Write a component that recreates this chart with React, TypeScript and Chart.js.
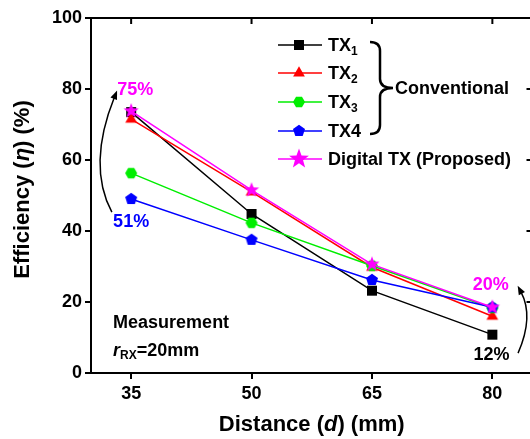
import React, { useEffect, useRef } from "react";
import { Chart, registerables } from "chart.js";
Chart.register(...registerables);

// ---------- data ----------
const distances = [35, 50, 65, 80];
const tx1 = [73.5, 44.8, 23.2, 10.8];
const tx2 = [71.5, 51.0, 29.8, 16.0];
const tx3 = [56.3, 42.3, 30.2, 18.3];
const tx4 = [49.0, 37.5, 26.2, 18.5];
const digital = [73.8, 51.5, 30.6, 18.5];
const yTicks = [0, 20, 40, 60, 80, 100];
const xRange = [30, 85];
const yRange = [0, 100];

const legendMain = ["TX", "TX", "TX", "TX4", "Digital TX (Proposed)"];
const legendSub = ["1", "2", "3", "", ""];
const colors = ["#000000", "#ff0000", "#00ee00", "#0000ff", "#ff00ff"];
const shapes = ["square", "triangle", "hexagon", "pentagon", "star"];

// annotation texts (positions in data units)
const noteTexts = ["75%", "51%", "20%", "12%"];
const noteColors = ["#ff00ff", "#0000ff", "#ff00ff", "#000000"];
const noteX = [35.5, 35.0, 79.8, 79.9];
const noteY = [79.7, 42.5, 24.8, 5.0];

const FONT = '"Liberation Sans", Arial, Helvetica, sans-serif';
const bold = (s: number) => `bold ${s}px ${FONT}`;
const ibold = (s: number) => `italic bold ${s}px ${FONT}`;

function makeMarker(shape: string, color: string, scale = 1): HTMLCanvasElement {
  const size = Math.ceil(24 * scale);
  const c = document.createElement("canvas");
  c.width = size;
  c.height = size;
  const ctx = c.getContext("2d")!;
  ctx.fillStyle = color;
  const cx = size / 2,
    cy = size / 2;
  const poly = (n: number, r: number, start: number) => {
    for (let i = 0; i < n; i++) {
      const a = start + (i * 2 * Math.PI) / n;
      const x = cx + r * Math.cos(a),
        y = cy + r * Math.sin(a);
      if (i === 0) ctx.moveTo(x, y);
      else ctx.lineTo(x, y);
    }
  };
  ctx.beginPath();
  if (shape === "square") {
    const h = 5 * scale;
    ctx.rect(cx - h, cy - h, 2 * h, 2 * h);
  } else if (shape === "triangle") {
    poly(3, 6.8 * scale, -Math.PI / 2);
  } else if (shape === "hexagon") {
    poly(6, 6 * scale, 0);
  } else if (shape === "pentagon") {
    poly(5, 6.3 * scale, -Math.PI / 2);
  } else if (shape === "star") {
    const R = 8 * scale,
      r = 3.3 * scale;
    for (let i = 0; i < 10; i++) {
      const a = -Math.PI / 2 + (i * Math.PI) / 5;
      const rr = i % 2 === 0 ? R : r;
      const x = cx + rr * Math.cos(a),
        y = cy + rr * Math.sin(a);
      if (i === 0) ctx.moveTo(x, y);
      else ctx.lineTo(x, y);
    }
  }
  ctx.closePath();
  ctx.fill();
  return c;
}

function drawRich(
  ctx: CanvasRenderingContext2D,
  parts: { t: string; f: string; dy?: number }[],
  x: number,
  y: number,
  align: "left" | "center"
) {
  ctx.textBaseline = "middle";
  ctx.textAlign = "left";
  let total = 0;
  for (const p of parts) {
    ctx.font = p.f;
    total += ctx.measureText(p.t).width;
  }
  let cx = align === "center" ? x - total / 2 : x;
  for (const p of parts) {
    ctx.font = p.f;
    ctx.fillText(p.t, cx, y + (p.dy || 0));
    cx += ctx.measureText(p.t).width;
  }
}

function arrow(
  ctx: CanvasRenderingContext2D,
  p0: [number, number],
  c: [number, number],
  p1: [number, number]
) {
  ctx.save();
  ctx.strokeStyle = "#000";
  ctx.fillStyle = "#000";
  ctx.lineWidth = 1.5;
  const dx = p1[0] - c[0],
    dy = p1[1] - c[1];
  const len = Math.hypot(dx, dy);
  const ux = dx / len,
    uy = dy / len;
  const hl = 9,
    hw = 3.5;
  const bx = p1[0] - ux * hl,
    by = p1[1] - uy * hl;
  ctx.beginPath();
  ctx.moveTo(p0[0], p0[1]);
  ctx.quadraticCurveTo(c[0], c[1], bx + ux * 2, by + uy * 2);
  ctx.stroke();
  ctx.beginPath();
  ctx.moveTo(p1[0], p1[1]);
  ctx.lineTo(bx - uy * hw, by + ux * hw);
  ctx.lineTo(bx + uy * hw, by - ux * hw);
  ctx.closePath();
  ctx.fill();
  ctx.restore();
}

const decorPlugin = {
  id: "decor",
  afterDraw(chart: any) {
    const ctx: CanvasRenderingContext2D = chart.ctx;
    const { left, right, top, bottom } = chart.chartArea;
    const xs = chart.scales.x,
      ys = chart.scales.y;
    const X = (v: number) => xs.getPixelForValue(v);
    const Y = (v: number) => ys.getPixelForValue(v);
    ctx.save();
    // frame top/right
    ctx.strokeStyle = "#000";
    ctx.lineWidth = 2;
    ctx.beginPath();
    ctx.moveTo(left - 1, top);
    ctx.lineTo(right, top);
    ctx.lineTo(right, bottom + 1);
    ctx.stroke();
    // inward mirror ticks
    ctx.beginPath();
    for (const d of distances) {
      ctx.moveTo(X(d), top);
      ctx.lineTo(X(d), top + 6);
    }
    for (const t of yTicks) {
      ctx.moveTo(right, Y(t));
      ctx.lineTo(right - 6, Y(t));
    }
    ctx.stroke();

    // legend
    const lx0 = left + 187,
      lx1 = left + 231,
      mx = left + 208,
      tx = left + 237;
    const rowY = [top + 27, top + 55, top + 84, top + 113, top + 141];
    for (let i = 0; i < 5; i++) {
      const y = rowY[i];
      ctx.strokeStyle = colors[i];
      ctx.lineWidth = 1.5;
      ctx.beginPath();
      ctx.moveTo(lx0, y);
      ctx.lineTo(lx1, y);
      ctx.stroke();
      const m = markersLegend[i];
      ctx.drawImage(m, mx - m.width / 2, y - m.height / 2);
      ctx.fillStyle = "#000";
      const parts: { t: string; f: string; dy?: number }[] = [{ t: legendMain[i], f: bold(18) }];
      if (legendSub[i]) parts.push({ t: legendSub[i], f: bold(12), dy: 6 });
      drawRich(ctx, parts, tx, y + 1, "left");
    }
    // brace
    const bx0 = left + 279,
      bxm = bx0 + 10,
      btip = bx0 + 23;
    const bt = top + 24,
      bb = top + 116,
      bm = (bt + bb) / 2,
      r = 9;
    ctx.strokeStyle = "#000";
    ctx.lineWidth = 2.5;
    ctx.beginPath();
    ctx.moveTo(bx0, bt);
    ctx.quadraticCurveTo(bxm, bt, bxm, bt + r);
    ctx.lineTo(bxm, bm - r);
    ctx.quadraticCurveTo(bxm, bm, btip, bm);
    ctx.quadraticCurveTo(bxm, bm, bxm, bm + r);
    ctx.lineTo(bxm, bb - r);
    ctx.quadraticCurveTo(bxm, bb, bx0, bb);
    ctx.stroke();
    ctx.fillStyle = "#000";
    drawRich(ctx, [{ t: "Conventional", f: bold(18) }], btip + 2, bm + 1, "left");

    // percent notes
    for (let i = 0; i < noteTexts.length; i++) {
      ctx.fillStyle = noteColors[i];
      drawRich(ctx, [{ t: noteTexts[i], f: bold(18) }], X(noteX[i]), Y(noteY[i]), "center");
    }
    // measurement note
    ctx.fillStyle = "#000";
    drawRich(ctx, [{ t: "Measurement", f: bold(18) }], X(32.75), Y(14.0), "left");
    drawRich(
      ctx,
      [
        { t: "r", f: ibold(18) },
        { t: "RX", f: bold(12), dy: 5 },
        { t: "=20mm", f: bold(18) },
      ],
      X(32.75),
      Y(6.2),
      "left"
    );

    // arrows
    arrow(ctx, [X(32.6), Y(45.3)], [X(29.5), Y(58.5)], [X(33.25), Y(79.6)]);
    arrow(ctx, [X(83.2), Y(5.6)], [X(85.2), Y(15.9)], [X(83.15), Y(24.6)]);

    // axis titles
    ctx.fillStyle = "#000";
    drawRich(
      ctx,
      [
        { t: "Distance (", f: bold(22) },
        { t: "d", f: ibold(22) },
        { t: ") (mm)", f: bold(22) },
      ],
      (left + right) / 2,
      425,
      "center"
    );
    ctx.save();
    ctx.translate(23, (top + bottom) / 2 - 6);
    ctx.rotate(-Math.PI / 2);
    drawRich(
      ctx,
      [
        { t: "Efficiency (", f: bold(22) },
        { t: "\u03B7", f: ibold(22) },
        { t: ") (%)", f: bold(22) },
      ],
      0,
      0,
      "center"
    );
    ctx.restore();
    ctx.restore();
  },
};

let markersLegend: HTMLCanvasElement[] = [];

export default function App() {
  const ref = useRef<HTMLCanvasElement | null>(null);
  useEffect(() => {
    if (!ref.current) return;
    const markers = shapes.map((s, i) => makeMarker(s, colors[i]));
    markersLegend = shapes.map((s, i) => makeMarker(s, colors[i], s === "star" ? 1.3 : 1));
    const series = [tx1, tx2, tx3, tx4, digital];
    const orders = [4, 3, 2, 1, 0];
    const datasets = series.map((arr, i) => ({
      label: legendMain[i] + legendSub[i],
      data: distances.map((d, j) => ({ x: d, y: arr[j] })),
      borderColor: colors[i],
      backgroundColor: colors[i],
      borderWidth: 1.5,
      pointStyle: markers[i] as any,
      pointRadius: 6,
      order: orders[i],
      tension: 0,
    }));
    const tickFont = { family: FONT, size: 18, weight: "bold" as const };
    const chart = new Chart(ref.current, {
      type: "line",
      data: { datasets },
      options: {
        responsive: false,
        animation: false,
        devicePixelRatio: 1,
        layout: { padding: { left: 0, top: 18, right: 7, bottom: 0 } },
        plugins: { legend: { display: false }, tooltip: { enabled: false } },
        scales: {
          x: {
            type: "linear",
            min: xRange[0],
            max: xRange[1],
            afterBuildTicks: (s: any) => {
              s.ticks = distances.map((v) => ({ value: v }));
            },
            afterFit: (s: any) => {
              s.height = 66;
            },
            ticks: { font: tickFont, color: "#000", padding: 4, maxRotation: 0, autoSkip: false },
            grid: { drawOnChartArea: false, drawTicks: true, tickLength: 6, color: "#000", lineWidth: 2 },
            border: { color: "#000", width: 2 },
          },
          y: {
            type: "linear",
            min: yRange[0],
            max: yRange[1],
            afterBuildTicks: (s: any) => {
              s.ticks = yTicks.map((v) => ({ value: v }));
            },
            afterFit: (s: any) => {
              s.width = 91;
            },
            ticks: { font: tickFont, color: "#000", padding: 3 },
            grid: { drawOnChartArea: false, drawTicks: true, tickLength: 6, color: "#000", lineWidth: 2 },
            border: { color: "#000", width: 2 },
          },
        },
      } as any,
      plugins: [decorPlugin],
    });
    return () => chart.destroy();
  }, []);
  return (
    <div
      style={{
        position: "fixed",
        left: 0,
        top: 0,
        width: 530,
        height: 439,
        overflow: "hidden",
        background: "#fff",
      }}
    >
      <canvas ref={ref} width={540} height={439} style={{ display: "block", width: 540, height: 439 }} />
    </div>
  );
}
